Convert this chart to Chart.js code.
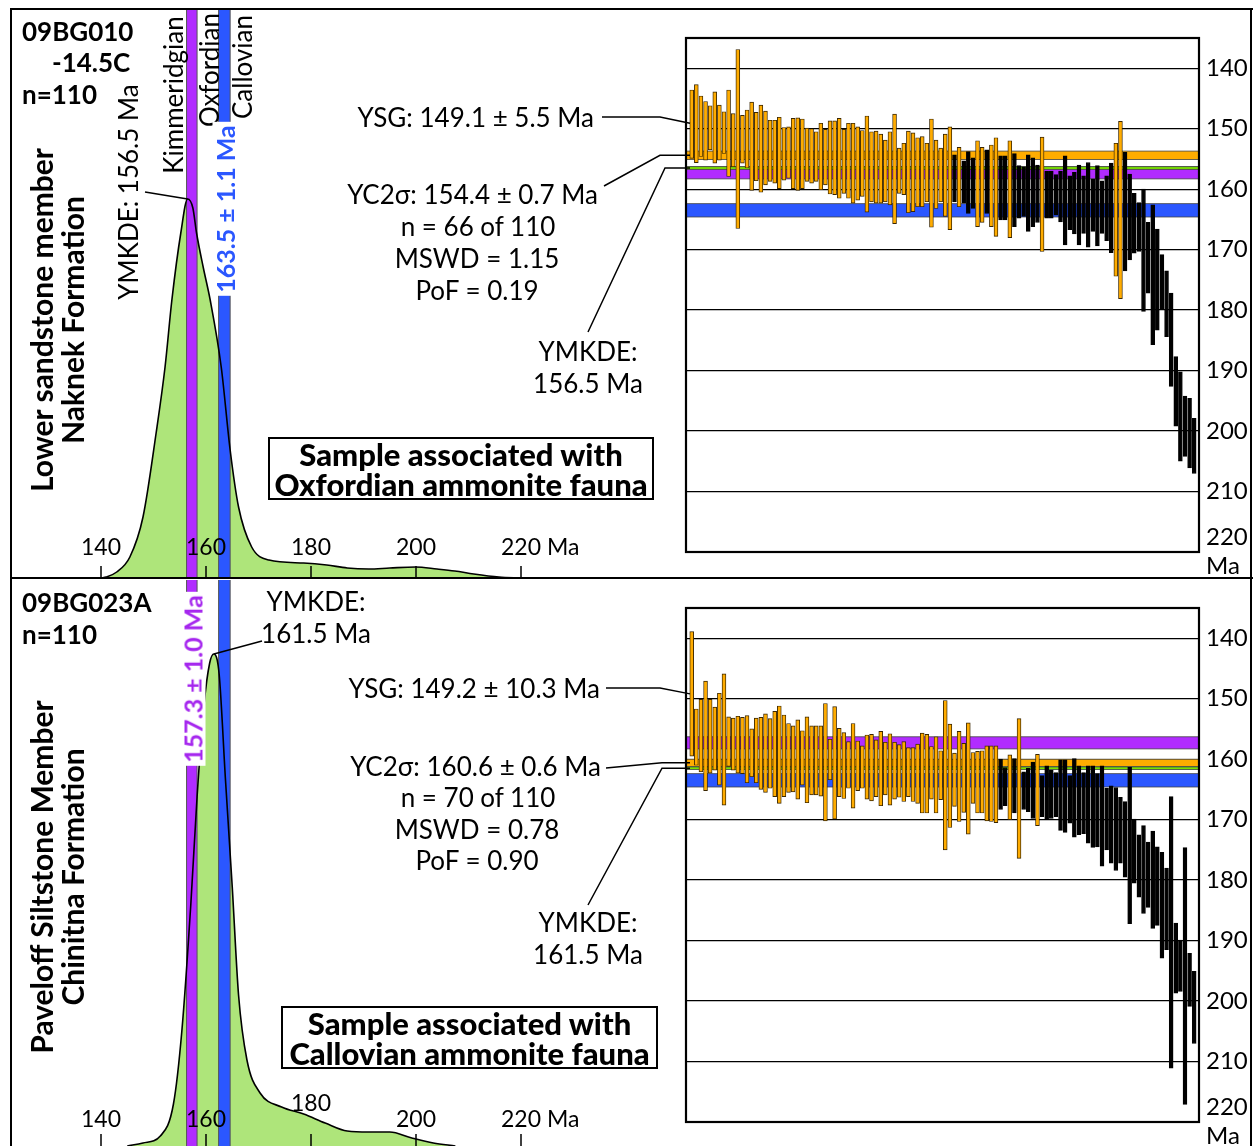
<!DOCTYPE html>
<html lang="en">
<head>
  <meta charset="UTF-8">
  <title>Detrital zircon ages 09BG010 / 09BG023A</title>
  <script src="https://cdn.jsdelivr.net/npm/chart.js"></script>
  <style>
    body { margin: 0; background: #fff; font-family: Lato, sans-serif; }
    #fig { position: relative; width: 1253px; height: 1146px; overflow: hidden; }
    canvas { position: absolute; }
    .t { position: absolute; white-space: nowrap; line-height: 1; color: #000; }
    .box { position: absolute; border: 2px solid #000; background: #fff; font-weight: 900;
           text-align: center; font-size: 31px; line-height: 30px; }
    .rule { position: absolute; background: #000; }
  </style>
</head>
<body>
<div id="fig">
  <canvas id="kde1" width="672" height="568" style="left:12px;top:10px"></canvas>
  <canvas id="kde2" width="672" height="566" style="left:12px;top:580px"></canvas>
  <canvas id="age1" width="693" height="548" style="left:560px;top:30px"></canvas>
  <canvas id="age2" width="693" height="546" style="left:560px;top:600px"></canvas>
  <div class="rule" style="left:10px;top:8px;width:1243px;height:2px"></div>
  <div class="rule" style="left:10px;top:8px;width:2px;height:1138px"></div>
  <div class="rule" style="left:1250px;top:8px;width:2px;height:1138px"></div>
  <div class="rule" style="left:10px;top:577px;width:1243px;height:2px"></div>
</div>
<script>
  // ---- data ----
  // KDE curves (age in Ma, relative height)
  const kdeAge1 = [140, 141, 143, 145.5, 148, 150.5, 152.2, 153.5, 155.2, 156.5, 157.5, 158.2, 159.5, 160.8,
                   162.9, 164.6, 166.2, 168.7, 172, 178.6, 183, 186.9, 191, 195, 199.9, 204, 207.4, 211, 215.8, 220];
  const kdeVal1 = [0, 1, 6, 21, 61, 145, 211, 278, 345, 379, 370, 345, 310, 278,
                   211, 128, 71, 31, 18, 15, 13, 10, 9, 10, 11, 9, 7, 4, 1, 0];
  const kdeAge2 = [145, 148, 151.3, 153.8, 155.4, 157.1, 158.3, 159.6, 160.7, 161.5, 162.5, 163.7, 165, 166.2,
                   167.8, 170.3, 174.4, 178.6, 182.7, 186.9, 191, 195, 199.2, 203.3, 207.5];
  const kdeVal2 = [0, 3, 10, 42, 115, 241, 349, 440, 483, 492, 472, 367, 259, 151,
                   86, 53, 39, 32, 23, 15, 14, 14, 8, 3, 0];
  const kdeTicks = [140, 160, 180, 200, 220];

  // single-grain ages, 2-sigma ranges (young end / old end), in plotted order
  const lo1 = [143.6,142.7,144.6,145.5,146.2,143.9,146.1,147.2,143.6,147.5,
               136.9,147.8,146.9,145.6,147.3,146.1,147.1,148.6,148.6,148.1,
               149.8,149.7,148.3,148.2,148.4,149.9,150.0,150.5,149.1,150.1,
               148.7,148.7,148.3,150.1,149.1,149.1,149.7,150.3,147.9,150.5,
               150.4,150.9,151.9,150.5,147.6,153.2,152.4,150.4,150.7,151.5,
               151.3,152.4,148.4,151.9,153.2,150.9,149.7,154.3,153.1,155.3,
               153.8,154.8,152.0,153.1,153.5,152.7,151.5,154.5,154.5,152.0,
               154.1,156.1,156.3,154.3,154.8,156.0,151.4,157.0,157.0,157.6,
               157.0,154.5,157.8,157.2,156.0,157.8,155.6,158.3,156.1,158.6,
               157.8,155.7,152.4,148.8,153.9,157.5,160.7,162.2,160.0,165.5,
               162.6,166.6,170.8,173.5,177.2,187.7,190.2,194.2,194.6,197.9];
  const hi1 = [154.9,155.6,154.6,155.2,153.5,155.7,155.2,154.1,157.9,156.3,
               166.5,155.7,156.5,160.2,158.6,160.5,159.3,158.7,159.0,159.9,
               158.5,158.2,159.9,160.2,159.9,158.7,159.0,158.7,160.1,159.3,
               160.8,160.9,161.5,160.7,161.5,162.3,161.8,161.2,163.8,162.1,
               162.3,162.3,162.1,162.6,165.7,160.7,160.9,163.9,163.7,162.9,
               162.9,162.1,166.3,163.2,162.1,164.5,166.7,162.1,162.9,162.3,
               164.0,163.2,166.2,165.5,164.0,166.2,167.8,165.1,165.1,168.0,
               166.2,164.8,164.5,167.0,166.2,165.5,170.3,164.8,164.8,164.3,
               165.4,169.2,166.7,167.4,169.2,167.3,169.6,167.0,169.4,167.3,
               168.5,170.5,174.4,178.1,173.5,171.7,170.6,170.3,180.2,177.2,
               185.7,183.3,179.9,184.4,192.6,199.2,205.0,204.2,206.1,207.0];
  // grains used in YC2σ (1-based positions)
  const yc1 = [1,2,3,4,5,6,7,8,9,10,11,12,13,14,15,16,17,18,19,20,21,22,23,24,25,26,27,28,29,30,
               31,32,33,34,35,36,37,38,39,40,41,42,43,44,45,46,47,48,49,50,51,52,53,54,55,56,57,
               59,63,64,66,67,70,77,93,94];

  const lo2 = [138.9,151.7,150.1,147.1,150.1,151.4,149.1,145.9,153.0,153.2,
               152.9,153.1,152.8,155.0,153.2,153.1,152.5,153.3,152.1,151.2,
               152.7,154.1,154.5,153.5,155.3,153.0,154.5,154.5,154.5,150.8,
               156.7,151.3,154.9,155.6,157.1,154.1,157.0,157.8,156.0,155.9,
               156.8,155.4,157.2,155.8,157.2,157.6,157.1,158.1,158.1,157.5,
               155.7,155.9,157.9,156.3,158.6,150.3,154.2,159.0,155.4,157.4,
               154.0,158.9,158.7,158.6,157.8,157.8,157.8,160.0,161.4,159.3,
               159.9,153.3,162.1,161.5,160.5,159.2,162.7,161.1,161.8,162.2,
               160.1,160.1,162.7,159.9,161.1,162.2,161.1,161.1,162.4,161.1,
               164.8,164.4,164.7,166.3,167.0,161.3,169.9,172.5,171.0,173.7,
               171.9,174.5,175.4,178.0,166.2,187.1,189.9,174.6,192.1,195.1];
  const hi2 = [159.5,161.0,162.1,165.2,162.3,161.8,164.3,167.6,161.2,161.8,
               162.3,162.4,163.9,162.9,163.9,165.0,165.5,164.8,166.2,167.3,
               166.2,165.5,165.4,166.6,164.3,167.2,165.9,165.9,166.1,170.2,
               163.4,169.9,166.2,166.5,164.8,168.1,165.2,164.8,166.6,166.9,
               166.2,167.7,165.9,167.6,166.6,166.3,167.0,166.2,167.0,167.3,
               168.9,168.9,166.6,168.9,166.7,175.0,171.3,167.8,170.3,168.8,
               172.4,167.3,168.9,168.9,170.2,170.3,170.5,168.3,167.7,170.0,
               168.9,176.4,168.3,168.7,169.8,171.0,169.5,169.9,169.8,169.5,
               171.8,172.1,170.6,172.9,172.5,172.3,173.9,174.6,174.5,177.7,
               175.0,177.2,178.4,177.2,179.5,187.2,180.5,182.8,185.5,184.5,
               188.0,187.5,192.9,191.5,211.1,198.7,198.4,217.1,200.9,207.0];
  const yc2 = [1,2,3,4,5,6,7,8,9,10,11,12,13,14,15,16,17,18,19,20,21,22,23,24,25,26,27,28,29,30,
               31,32,33,34,35,36,37,38,39,40,41,42,43,44,45,46,47,48,49,50,51,52,53,54,55,56,57,58,59,60,
               61,62,63,64,65,66,67,70,72,76];

  const ageTicks = [140, 150, 160, 170, 180, 190, 200, 210, 220];

  // reference ages (centre, ± half width), Ma
  const kimOxf = [157.3, 1.0];
  const oxfCal = [163.5, 1.1];
  const ymkde1 = 156.5, ymkde2 = 161.5;
  const yc2s1 = [154.4, 0.7], yc2s2 = [160.6, 0.6];
  const ysg1 = 149.1, ysg2 = 149.2;

  // ---- colours ----
  const GREEN = '#aee57a', PURPLE = '#b12cff', BLUE = '#2b57ff', ORANGE = '#ffac00', LIME = '#78e000';

  Chart.defaults.font.family = 'Lato, sans-serif';
  Chart.defaults.color = '#000';

  const fig = document.getElementById('fig');
  function txt(s, x, y, o = {}) {
    const d = document.createElement('div');
    d.className = 't';
    d.textContent = s;
    d.style.fontSize = (o.size || 25) + 'px';
    if (o.bold) d.style.fontWeight = 'bold';
    if (o.color) d.style.color = o.color;
    if (o.bg) { d.style.background = o.bg; d.style.padding = '0 3px'; }
    d.style.left = x + 'px';
    d.style.top = y + 'px';
    const ax = o.align === 'l' ? '0%' : o.align === 'r' ? '-100%' : '-50%';
    d.style.transform = `translate(${ax}, -50%)` + (o.rot ? ' rotate(-90deg)' : '');
    fig.appendChild(d);
  }
  function box(lines, x, y, w, h) {
    const d = document.createElement('div');
    d.className = 'box';
    d.style.left = x + 'px'; d.style.top = y + 'px';
    d.style.width = w + 'px'; d.style.height = h + 'px';
    d.innerHTML = lines.join('<br>');
    fig.appendChild(d);
  }

  // KDE panel: bands behind the outline, ticks, YMKDE leader
  const kdeDeco = {
    id: 'kdeDeco',
    afterDatasetDraw(chart, args, o) {
      if (args.index !== 0) return;
      const { ctx, chartArea: a, scales: { x } } = chart;
      ctx.save();
      for (const b of o.bands) {
        const l = x.getPixelForValue(b.c - b.e), r = x.getPixelForValue(b.c + b.e);
        ctx.fillStyle = b.color;
        ctx.fillRect(l, a.top, r - l, a.bottom - a.top);
        ctx.strokeStyle = '#555';
        ctx.lineWidth = 1;
        ctx.beginPath();
        ctx.moveTo(l, a.top); ctx.lineTo(l, a.bottom);
        ctx.moveTo(r, a.top); ctx.lineTo(r, a.bottom);
        ctx.stroke();
      }
      ctx.restore();
    },
    afterDraw(chart, args, o) {
      const { ctx, chartArea: a, scales: { x, y } } = chart;
      ctx.save();
      ctx.strokeStyle = '#000';
      ctx.lineWidth = 1.5;
      ctx.fillStyle = '#000';
      ctx.font = '23px Lato, sans-serif';
      ctx.textBaseline = 'middle';
      kdeTicks.forEach((t, i) => {
        const px = x.getPixelForValue(t);
        ctx.beginPath();
        ctx.moveTo(px, a.bottom - 12); ctx.lineTo(px, a.bottom);
        ctx.stroke();
        const ly = a.bottom - (o.raise[i] || o.labelUp);
        const s = String(t);
        const w = ctx.measureText(s).width;
        ctx.textAlign = 'left';
        ctx.fillText(i === kdeTicks.length - 1 ? s + ' Ma' : s, px - w / 2, ly);
      });
      // leader from the YMKDE label to the peak
      const ds = chart.data.datasets[1].data;
      const pk = ds.reduce((m, p) => (p.y > m.y ? p : m), ds[0]);
      ctx.lineWidth = 1.5;
      ctx.beginPath();
      ctx.moveTo(o.leader[0], o.leader[1]);
      ctx.lineTo(x.getPixelForValue(o.mode), y.getPixelForValue(pk.y));
      ctx.stroke();
      ctx.restore();
    }
  };

  function kdeChart(id, ages, vals, left, top, h, deco) {
    const pts = ages.map((a, i) => ({ x: a, y: vals[i] }));
    return new Chart(document.getElementById(id), {
      type: 'line',
      data: {
        datasets: [
          { data: pts, fill: 'origin', backgroundColor: GREEN, borderWidth: 0, pointRadius: 0,
            cubicInterpolationMode: 'monotone', order: 2 },
          { data: pts, fill: false, borderColor: '#000', borderWidth: 1.6, pointRadius: 0,
            cubicInterpolationMode: 'monotone', order: 1 }
        ]
      },
      options: {
        responsive: false, animation: false, events: [],
        layout: { padding: 0 },
        scales: {
          // 140 Ma at x=101, 5.25 px per Ma
          x: { type: 'linear', display: false, min: 140 + (left - 101) / 5.25, max: 140 + (left + 672 - 101) / 5.25 },
          y: { display: false, min: 0, max: h }
        },
        plugins: { legend: { display: false }, tooltip: { enabled: false }, kdeDeco: deco }
      },
      plugins: [kdeDeco]
    });
  }

  // grain-age panel: horizontal bands, frame, leaders
  const ageDeco = {
    id: 'ageDeco',
    beforeDatasetsDraw(chart, args, o) {
      const { ctx, chartArea: a, scales: { y } } = chart;
      ctx.save();
      for (const b of o.bands) {
        const t = y.getPixelForValue(b.c - b.e), btm = y.getPixelForValue(b.c + b.e);
        ctx.fillStyle = b.color;
        ctx.fillRect(a.left, t, a.right - a.left, btm - t);
        ctx.strokeStyle = '#444';
        ctx.lineWidth = 0.8;
        ctx.strokeRect(a.left, t, a.right - a.left, btm - t);
      }
      ctx.restore();
    },
    afterDraw(chart, args, o) {
      const { ctx, chartArea: a, scales: { y } } = chart;
      ctx.save();
      ctx.strokeStyle = '#000';
      ctx.lineWidth = 2.2;
      ctx.strokeRect(a.left, a.top, a.right - a.left, a.bottom - a.top);
      ctx.lineWidth = 1.5;
      for (const l of o.leaders) {
        const ty = y.getPixelForValue(l.val);
        ctx.beginPath();
        ctx.moveTo(l.x0 - o.ox, l.y0 - o.oy);
        ctx.lineTo(l.x1 - o.ox, l.y1 == null ? ty : l.y1 - o.oy);
        ctx.lineTo(a.left + 4, ty);
        ctx.stroke();
      }
      ctx.restore();
    }
  };

  function ageChart(id, lo, hi, yc, deco, padBottom) {
    const inYc = lo.map((v, i) => yc.includes(i + 1));
    return new Chart(document.getElementById(id), {
      type: 'bar',
      data: {
        datasets: [{
          data: lo.map((v, i) => ({ x: i + 1, y: [v, hi[i]] })),
          backgroundColor: inYc.map(f => (f ? ORANGE : '#000')),
          borderColor: inYc.map(f => (f ? '#3a2600' : '#000')),
          borderWidth: 0.9,
          borderSkipped: false,
          barThickness: 3.9
        }]
      },
      options: {
        responsive: false, animation: false, events: [],
        layout: { padding: { left: 126, top: 8, bottom: padBottom, right: 0 } },
        scales: {
          x: { type: 'linear', display: false, offset: false, min: -0.24, max: 111.04 },
          y: {
            reverse: true, min: 135, max: 220, position: 'right',
            afterBuildTicks: s => { s.ticks = ageTicks.map(v => ({ value: v })); },
            afterFit: s => { s.width = 54; s.paddingTop = 0; s.paddingBottom = 0; },
            ticks: { callback: v => (v === 220 ? ['220', 'Ma'] : String(v)), font: { size: 24 },
                     padding: 7, autoSkip: false, color: '#000' },
            grid: { color: '#000', lineWidth: 1.3, drawTicks: false },
            border: { display: false }
          }
        },
        plugins: { legend: { display: false }, tooltip: { enabled: false }, ageDeco: deco }
      },
      plugins: [ageDeco]
    });
  }

  const band = (c, e, color) => ({ c, e, color });

  // ---- top panel ----
  kdeChart('kde1', kdeAge1, kdeVal1, 12, 10, 568, {
    bands: [band(kimOxf[0], kimOxf[1], PURPLE), band(oxfCal[0], oxfCal[1], BLUE)],
    labelUp: 30, raise: [], leader: [133, 182], mode: ymkde1
  });
  ageChart('age1', lo1, hi1, yc1, {
    bands: [band(kimOxf[0], kimOxf[1], PURPLE), band(oxfCal[0], oxfCal[1], BLUE),
            band(yc2s1[0], yc2s1[1], ORANGE), band(ymkde1, 0.22, LIME)],
    ox: 560, oy: 30,
    leaders: [
      { x0: 602, y0: 117, x1: 660, y1: 117, val: ysg1 },
      { x0: 604, y0: 186, x1: 660, y1: null, val: yc2s1[0] },
      { x0: 588, y0: 332, x1: 665, y1: null, val: ymkde1 }
    ]
  }, 26);

  // ---- bottom panel ----
  kdeChart('kde2', kdeAge2, kdeVal2, 12, 580, 566, {
    bands: [band(kimOxf[0], kimOxf[1], PURPLE), band(oxfCal[0], oxfCal[1], BLUE)],
    labelUp: 26, raise: [0, 0, 42, 0, 0], leader: [250, 61], mode: ymkde2
  });
  ageChart('age2', lo2, hi2, yc2, {
    bands: [band(kimOxf[0], kimOxf[1], PURPLE), band(oxfCal[0], oxfCal[1], BLUE),
            band(yc2s2[0], yc2s2[1], ORANGE), band(ymkde2, 0.22, LIME)],
    ox: 560, oy: 600,
    leaders: [
      { x0: 606, y0: 688, x1: 660, y1: 688, val: ysg2 },
      { x0: 606, y0: 768, x1: 662, y1: null, val: yc2s2[0] },
      { x0: 588, y0: 905, x1: 662, y1: null, val: ymkde2 }
    ]
  }, 24);

  // ---- text ----
  txt('09BG010', 22, 31, { bold: true, size: 26, align: 'l' });
  txt('-14.5C', 52, 62, { bold: true, size: 26, align: 'l' });
  txt('n=110', 22, 94, { bold: true, size: 26, align: 'l' });
  txt('Lower sandstone member', 41, 320, { bold: true, size: 30, rot: true });
  txt('Naknek Formation', 72, 320, { bold: true, size: 30, rot: true });
  txt('YMKDE: 156.5 Ma', 128, 192, { size: 26, rot: true });
  txt('Kimmeridgian', 173, 95, { size: 26, rot: true });
  txt('Oxfordian', 209, 70, { size: 26, rot: true });
  txt('Callovian', 242, 67, { size: 26, rot: true });
  txt('163.5 ± 1.1 Ma', 225, 209, { bold: true, size: 25, rot: true, color: '#2b57ff', bg: '#fff' });
  txt('YSG: 149.1 ± 5.5 Ma', 594, 117, { align: 'r', size: 26 });
  txt('YC2σ: 154.4 ± 0.7 Ma', 598, 194, { align: 'r', size: 26 });
  txt('n = 66 of 110', 478, 226, { size: 26 });
  txt('MSWD = 1.15', 477, 258, { size: 26 });
  txt('PoF = 0.19', 477, 290, { size: 26 });
  txt('YMKDE:', 588, 351, { size: 26 });
  txt('156.5 Ma', 588, 383, { size: 26 });
  box(['Sample associated with', 'Oxfordian ammonite fauna'], 268, 437, 382, 59);

  txt('09BG023A', 22, 602, { bold: true, size: 26, align: 'l' });
  txt('n=110', 22, 634, { bold: true, size: 26, align: 'l' });
  txt('Paveloff Siltstone Member', 41, 877, { bold: true, size: 30, rot: true });
  txt('Chinitna Formation', 72, 877, { bold: true, size: 30, rot: true });
  txt('157.3 ± 1.0 Ma', 193, 679, { bold: true, size: 25, rot: true, color: '#a526ee', bg: '#fff' });
  txt('YMKDE:', 316, 601, { size: 26 });
  txt('161.5 Ma', 316, 633, { size: 26 });
  txt('YSG: 149.2 ± 10.3 Ma', 600, 688, { align: 'r', size: 26 });
  txt('YC2σ: 160.6 ± 0.6 Ma', 601, 766, { align: 'r', size: 26 });
  txt('n = 70 of 110', 478, 797, { size: 26 });
  txt('MSWD = 0.78', 477, 829, { size: 26 });
  txt('PoF = 0.90', 477, 860, { size: 26 });
  txt('YMKDE:', 588, 922, { size: 26 });
  txt('161.5 Ma', 588, 954, { size: 26 });
  box(['Sample associated with', 'Callovian ammonite fauna'], 281, 1006, 373, 59);
</script>
</body>
</html>
